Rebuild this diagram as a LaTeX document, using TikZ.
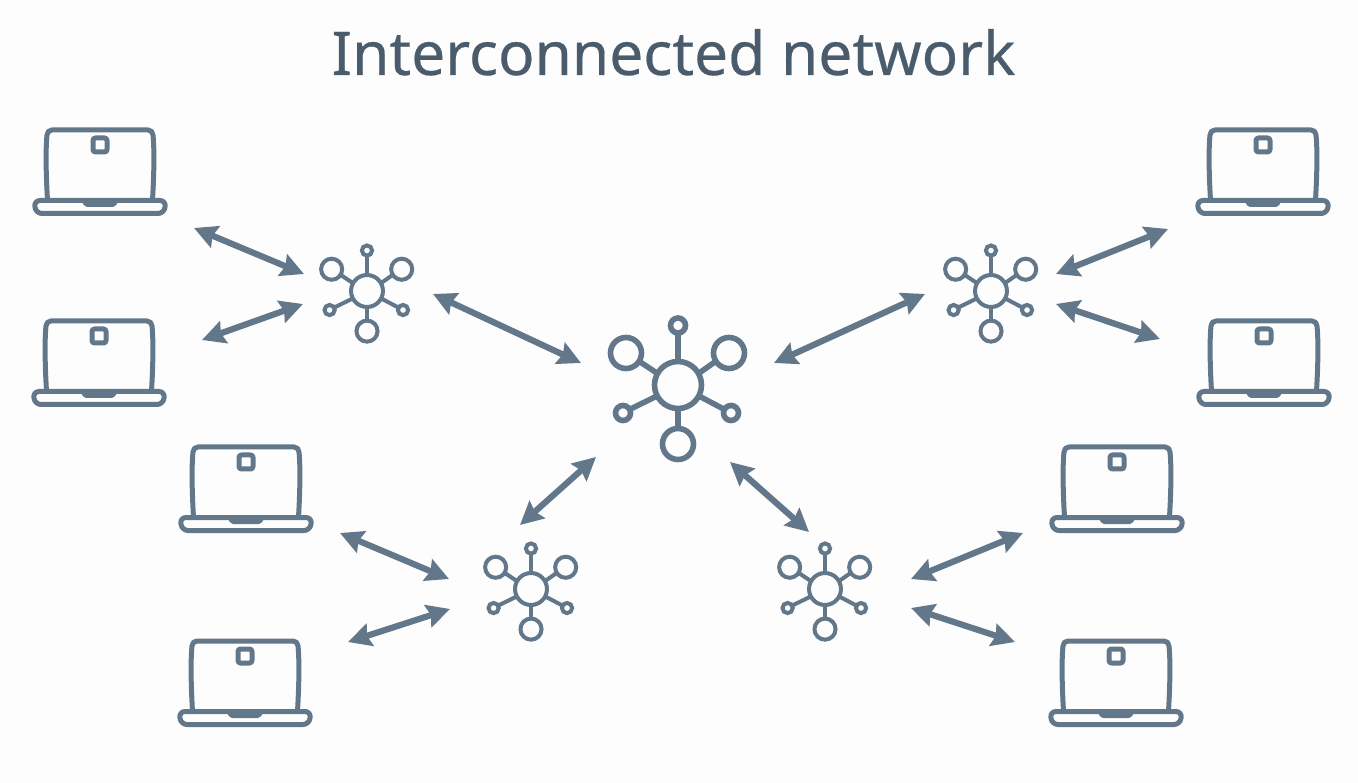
\documentclass[tikz,border=0pt]{standalone}
\usepackage{fontspec}
\setmainfont[FakeBold=0.35]{Noto Sans}
\usetikzlibrary{arrows.meta}
\definecolor{ink}{HTML}{63778A}
\definecolor{titleink}{HTML}{4A5C6C}
\definecolor{paper}{HTML}{FDFDFD}
\tikzset{
  x=1pt,y=-1pt,
  laptopline/.style={draw=ink,line width=5pt,line join=round,fill=none},
  link/.style={draw=ink,line width=6.2pt,{Stealth[length=23pt,width=23pt,inset=3pt]}-{Stealth[length=23pt,width=23pt,inset=3pt]}},
  titletext/.style={text=titleink,font=\fontsize{60.4}{62}\selectfont,anchor=base,inner sep=0pt},
}
% laptop icon: #1,#2 = small square centre
\newcommand{\laptopicon}[2]{%
  \begin{scope}[shift={(#1,#2)}]
    \draw[laptopline,rounded corners=2.5pt] (-7,-7) rectangle (7,7);
    \draw[laptopline] (-52.5,55) .. controls (-54,30) and (-54.5,5) .. (-53,-10)
       .. controls (-52.8,-13) and (-51,-15) .. (-48,-15) -- (48,-15)
       .. controls (51,-15) and (52.8,-13) .. (53,-10)
       .. controls (54.5,5) and (54,30) .. (52.5,55);
    \draw[laptopline,rounded corners=6pt] (-66,55.5) -- (66,55.5) -- (64,68.5) -- (-64,68.5) -- cycle;
    \fill[ink,rounded corners=2pt] (-19,55) -- (19,55) -- (15,62) -- (-15,62) -- cycle;
  \end{scope}}
% hub icon: centre, scale, line width
\newcommand{\hubicon}[4]{%
  \begin{scope}[shift={(#1,#2)},scale=#3,draw=ink,line width=#4pt,fill=none]
    \draw (0,0) circle[radius=23.5];
    \draw (0,-59.5) circle[radius=7.5];
    \draw (-52,-32) circle[radius=15.5];
    \draw (51,-32) circle[radius=15.5];
    \draw (-55,28) circle[radius=7.5];
    \draw (53,28) circle[radius=7.5];
    \draw (0,59) circle[radius=15.5];
    \draw (0,-23.5) -- (0,-52);
    \draw (0,23.5) -- (0,43.5);
    \draw (-20.5,-11.5) -- (-38.5,-23.5);
    \draw (20.5,-11.5) -- (37.5,-23.5);
    \draw (-21,11) -- (-48.5,24.5);
    \draw (21,11) -- (46.5,24.5);
  \end{scope}}
\begin{document}
\begin{tikzpicture}
\useasboundingbox (0,0) rectangle (1358,783);
\fill[paper] (0,0) rectangle (1358,783);
\node[titletext] (title) at (673.5,75) {Interconnected network};
\laptopicon{100}{145}
\laptopicon{99}{336}
\laptopicon{246}{462}
\laptopicon{245}{656}
\laptopicon{1263}{145}
\laptopicon{1264}{336}
\laptopicon{1117}{462}
\laptopicon{1116}{656}
\hubicon{678}{385}{1}{5.6}
\hubicon{367}{291}{0.68}{4}
\hubicon{991}{291}{0.68}{4}
\hubicon{531}{589}{0.68}{4}
\hubicon{825}{589}{0.68}{4}
\coordinate (a1) at (194,228); \coordinate (b1) at (304,274);
\coordinate (a2) at (202,340); \coordinate (b2) at (303,304);
\coordinate (a3) at (433,294); \coordinate (b3) at (581,363);
\coordinate (a4) at (1168,229); \coordinate (b4) at (1056,274);
\coordinate (a5) at (1160,339); \coordinate (b5) at (1056,304);
\coordinate (a6) at (925,294); \coordinate (b6) at (774,363);
\coordinate (a7) at (340,533); \coordinate (b7) at (449,579);
\coordinate (a8) at (348,642); \coordinate (b8) at (450,609);
\coordinate (a9) at (596,457); \coordinate (b9) at (520,525);
\coordinate (a10) at (730,462); \coordinate (b10) at (809,532);
\coordinate (a11) at (1023,533); \coordinate (b11) at (911,579);
\coordinate (a12) at (1015,642); \coordinate (b12) at (911,608);
\foreach \i in {1,...,12} \draw[link] (a\i) -- (b\i);
\end{tikzpicture}
\end{document}
